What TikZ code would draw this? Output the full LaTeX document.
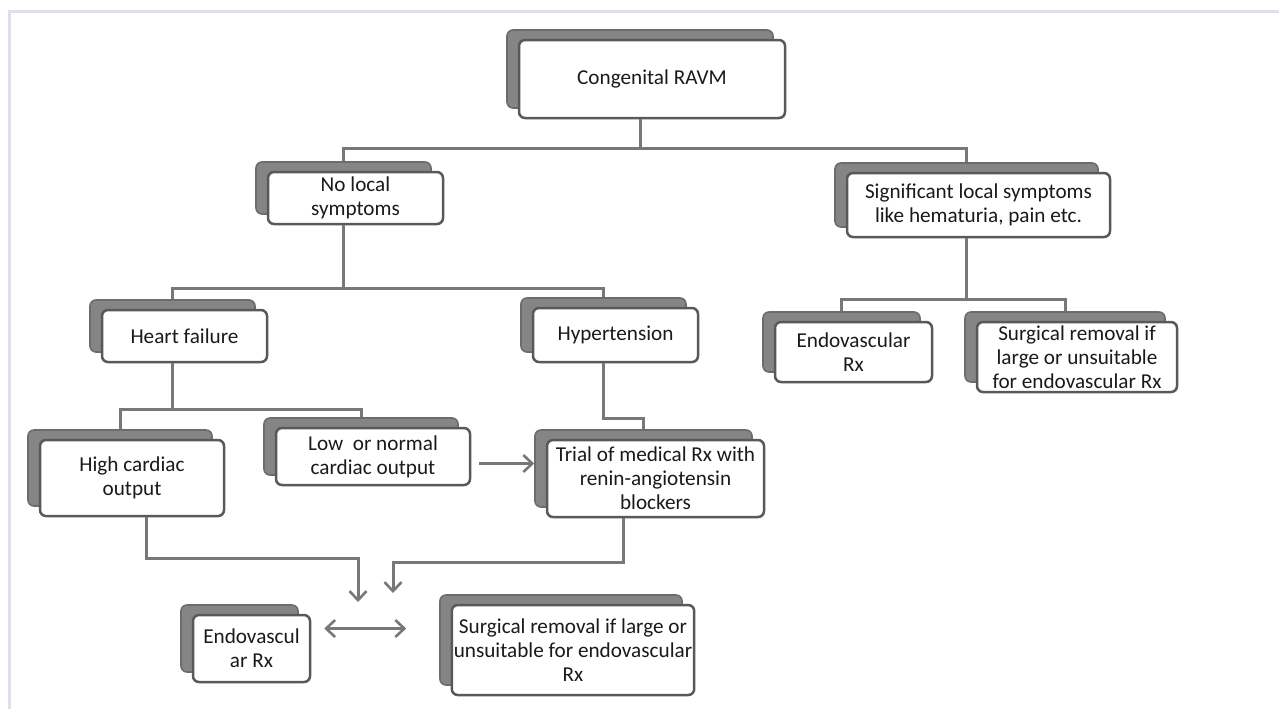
\documentclass[tikz,border=0pt]{standalone}
\usepackage{fontspec}
\setmainfont{Carlito}
\usetikzlibrary{arrows.meta,calc}
\pgfdeclarelayer{bg}
\pgfsetlayers{bg,main}
\definecolor{boxline}{HTML}{595959}
\definecolor{shfill}{HTML}{858585}
\definecolor{shline}{HTML}{6C6C6C}
\definecolor{connc}{HTML}{787878}
\definecolor{txt}{HTML}{1A1A1A}
\definecolor{framec}{HTML}{DDE1EF}
\tikzset{
  frontbox/.style={draw=boxline, line width=1.25pt, fill=white, rounded corners=3pt,
    align=center, inner sep=1pt, font=\fontsize{10.6}{12}\selectfont, text=txt},
  shadowbox/.style={draw=shline, line width=0.8pt, fill=shfill, rounded corners=3pt, inner sep=0pt},
  conn/.style={draw=connc, line width=1.5pt},
  arr/.style={conn, -{Straight Barb[length=4.5pt,width=8.5pt,line width=1.3pt]}},
  darr/.style={conn, {Straight Barb[length=4.5pt,width=8.5pt,line width=1.3pt]}-{Straight Barb[length=4.5pt,width=8.5pt,line width=1.3pt]}},
}
\newcommand\boxpair[6]{%
  \pgfmathsetmacro\bpw{(#4-#2)*0.5}%
  \pgfmathsetmacro\bph{(#5-#3)*0.5}%
  \node[frontbox, minimum width=\bpw pt, minimum height=\bph pt] (#1) at ({(#2+#4)/2},{(#3+#5)/2}) {#6};
  \begin{pgfonlayer}{bg}
    \node[shadowbox, minimum width=\bpw pt, minimum height=\bph pt] (#1-s) at ({(#2+#4)/2-12},{(#3+#5)/2-10}) {};
  \end{pgfonlayer}
}
\begin{document}
\begin{tikzpicture}[x=0.5pt,y=-0.5pt]
\useasboundingbox (0,0) rectangle (1279,709);
\begin{pgfonlayer}{bg}
  \fill[white] (0,0) rectangle (1279,709);
  \draw[framec, line width=1.5pt] (9.5,709) -- (9.5,11.5) -- (1279,11.5);
\end{pgfonlayer}

\boxpair{cong}{519}{40}{785}{118}{Congenital RAVM}
\boxpair{nl}{268}{172}{443}{224}{No local\\symptoms}
\boxpair{sig}{847}{173}{1110}{237}{Significant local symptoms\\like hematuria, pain etc.}
\boxpair{hf}{102}{310}{267}{362}{Heart failure}
\boxpair{hyp}{533}{308}{698}{362}{Hypertension}
\boxpair{endr}{775}{322}{932}{382}{Endovascular\\Rx}
\boxpair{surr}{977}{322}{1177}{392}{Surgical removal if\\large or unsuitable\\for endovascular Rx}
\boxpair{hc}{40}{440}{224}{516}{High cardiac\\output}
\boxpair{lo}{276}{428}{470}{485}{Low~ or normal\\cardiac output}
\boxpair{tr}{547}{440}{764}{517}{Trial of medical Rx with\\renin-angiotensin\\blockers}
\boxpair{endb}{193}{615}{310}{682}{Endovascul\\ar Rx}
\boxpair{surb}{452}{605}{694}{695}{Surgical removal if large or\\unsuitable for endovascular\\Rx}

\coordinate (tipG) at (358,602);
\coordinate (tipH) at (393,593);

% Congenital -> two branches
\draw[conn] (cong-s.south |- cong.south) -- ++(0,29) coordinate (j1);
\draw[conn] (nl-s.north) |- (j1) -| (sig-s.north);
% No local -> Heart failure / Hypertension
\draw[conn] (nl-s.south |- nl.south) -- ++(0,63) coordinate (j2);
\draw[conn] (hf-s.north) |- (j2) -| (hyp-s.north);
% Significant -> Endovascular / Surgical
\draw[conn] (sig-s.south |- sig.south) -- ++(0,61) coordinate (j3);
\draw[conn] (endr-s.north) |- (j3) -| (surr-s.north);
% Heart failure -> High / Low
\draw[conn] (hf-s.south |- hf.south) -- ++(0,46) coordinate (j4);
\draw[conn] (hc-s.north) |- (j4) -| (lo-s.north);
% Hypertension -> Trial
\draw[conn] (hyp-s.south |- hyp.south) -- ++(0,55) -| (tr-s.north);
% Low -> Trial
\draw[arr] ($(lo.east)+(8,7)$) coordinate (la) -- (la -| tr-s.west);
% High cardiac -> down
\draw[arr] ($(hc.south)+(14,0)$) |- ($(tipG)+(0,-44)$) -- (tipG);
% Trial -> down
\draw[arr] ($(tr.south)+(-32,0)$) |- ($(tipH)+(0,-31)$) -- (tipH);
% double arrow
\draw[darr] ($(endb.east)+(13,-20)$) -- ($(surb-s.west |- endb.east)+(-33,-20)$);
\end{tikzpicture}
\end{document}
